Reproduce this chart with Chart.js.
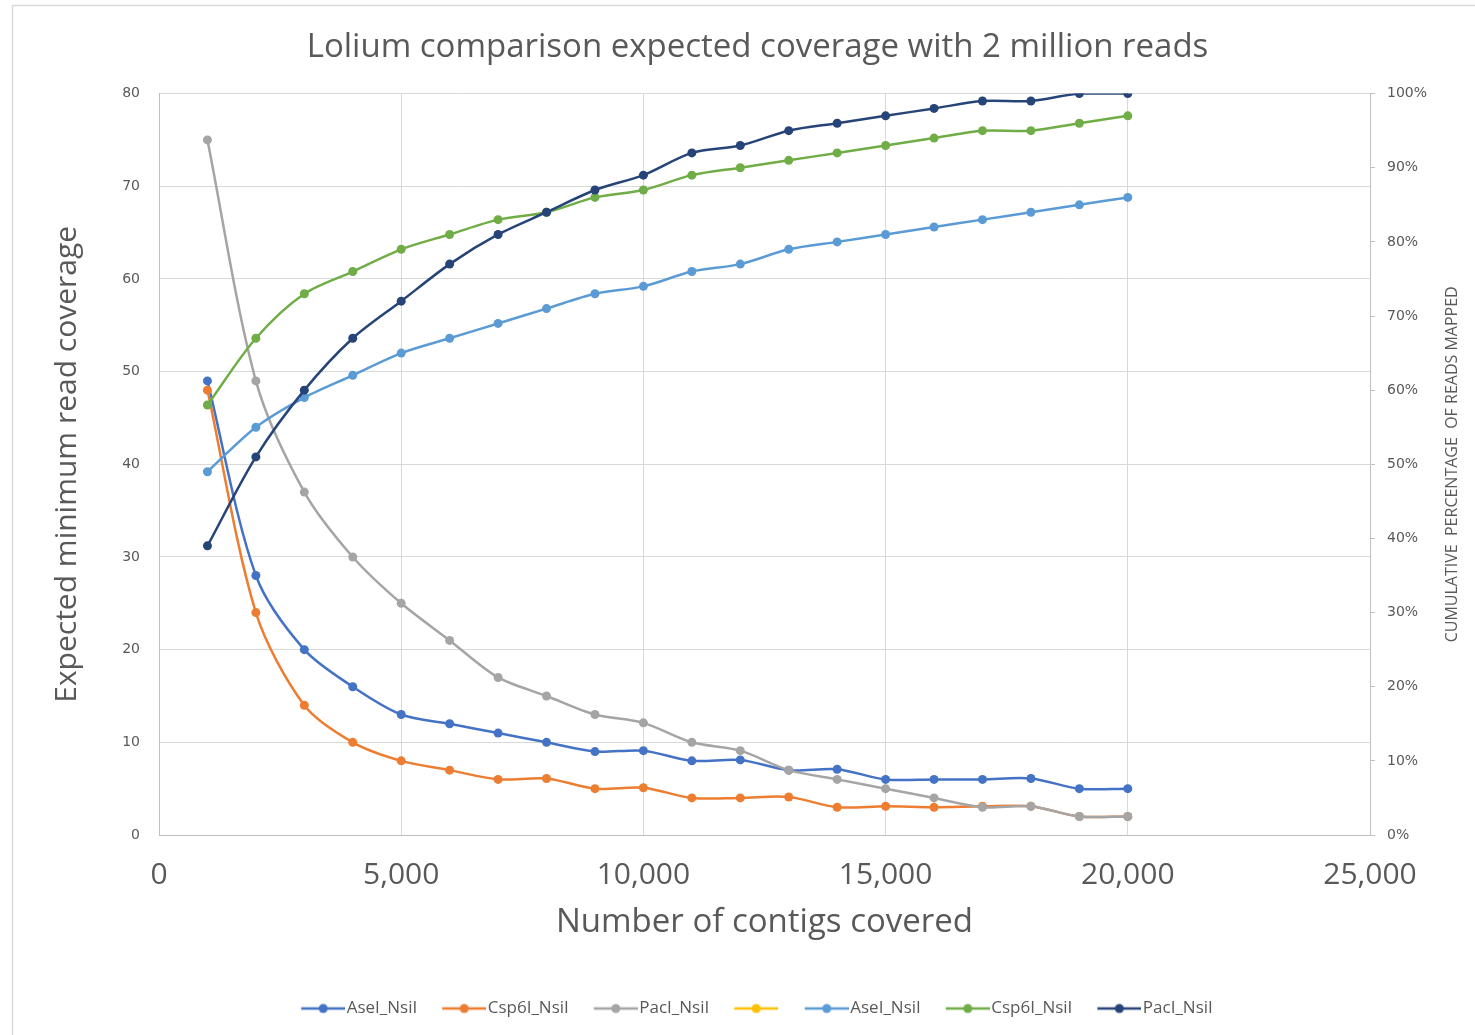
<!DOCTYPE html>
<html>
<head>
<meta charset="utf-8">
<script src="https://cdn.jsdelivr.net/npm/chart.js@4.4.1/dist/chart.umd.min.js"></script>
<style>
html,body{margin:0;padding:0;background:#fff;}
#wrap{position:relative;width:1475px;height:1035px;}
</style>
</head>
<body>
<div id="wrap"><canvas id="c" width="1475" height="1035"></canvas></div>
<script>
const contigs = [1000,2000,3000,4000,5000,6000,7000,8000,9000,10000,11000,12000,13000,14000,15000,16000,17000,18000,19000,20000];
const coverageAseI = [49,28,20,16,13,12,11,10,9,9.1,8,8.1,7,7.1,6,6,6,6.1,5,5];
const coverageCsp6I = [48,24,14,10,8,7,6,6.1,5,5.1,4,4,4.1,3,3.1,3,3.1,3.1,2,2];
const coveragePacI = [75,49,37,30,25,21,17,15,13,12.1,10,9.1,7,6,5,4,3,3.1,2,2];
const mappedAseI = [49,55,59,62,65,67,69,71,73,74,76,77,79,80,81,82,83,84,85,86];
const mappedCsp6I = [58,67,73,76,79,81,83,84,86,87,89,90,91,92,93,94,95,95,96,97];
const mappedPacI = [39,51,60,67,72,77,81,84,87,89,92,93,95,96,97,98,99,99,100,100];
const leftTicks = [0,10,20,30,40,50,60,70,80];
const rightTicks = [0,10,20,30,40,50,60,70,80,90,100];
const xTicks = [0,5000,10000,15000,20000,25000];
const seriesNames = ['AseI_NsiI','Csp6I_NsiI','PacI_NsiI','','AseI_NsiI','Csp6I_NsiI','PacI_NsiI'];
const seriesColors = ['#4472C4','#ED7D31','#A5A5A5','#FFC000','#5B9BD5','#70AD47','#264478'];

function pts(vals){ return contigs.map((x,i)=>({x:x,y:vals[i]})); }
const seriesData = [pts(coverageAseI),pts(coverageCsp6I),pts(coveragePacI),[],pts(mappedAseI),pts(mappedCsp6I),pts(mappedPacI)];
const axisFor = ['y','y','y','y','y1','y1','y1'];

function legendIcon(color){
  const c=document.createElement('canvas'); c.width=50; c.height=14;
  const g=c.getContext('2d');
  g.strokeStyle=color; g.lineWidth=2.5; g.beginPath(); g.moveTo(6,7); g.lineTo(50,7); g.stroke();
  g.fillStyle=color; g.beginPath(); g.arc(28,7,4.5,0,Math.PI*2); g.fill();
  return c;
}
const icons = seriesColors.map(legendIcon);

const datasets = seriesNames.map((n,i)=>({
  label:n,
  data:seriesData[i],
  yAxisID:axisFor[i],
  borderColor:seriesColors[i],
  backgroundColor:seriesColors[i],
  borderWidth:2.5,
  pointRadius:4.5,
  pointHoverRadius:4.5,
  pointBorderWidth:0,
  tension:0.3,
  fill:false,
  order:seriesNames.length-i
}));

const GRID='#d9d9d9', AXIS='#bfbfbf', TXT='#595959';

const extras = {
  id:'extras',
  beforeDraw(chart){
    const ctx=chart.ctx;
    ctx.save();
    ctx.strokeStyle='#d9d9d9'; ctx.lineWidth=1.5;
    ctx.beginPath(); ctx.moveTo(12.5,1035); ctx.lineTo(12.5,5.5); ctx.lineTo(1475,5.5); ctx.stroke();
    ctx.restore();
  },
  afterDraw(chart){
    const ctx=chart.ctx, a=chart.chartArea;
    ctx.save();
    ctx.translate(1452,(a.top+a.bottom)/2);
    ctx.rotate(-Math.PI/2);
    ctx.fillStyle=TXT;
    ctx.font='16px "Liberation Sans Narrow", "Open Sans", sans-serif';
    ctx.textAlign='center'; ctx.textBaseline='middle';
    ctx.fillText('CUMULATIVE  PERCENTAGE  OF READS MAPPED',0,0);
    ctx.restore();
  }
};

new Chart(document.getElementById('c'),{
  type:'line',
  data:{datasets:datasets},
  plugins:[extras],
  options:{
    responsive:false,
    animation:false,
    layout:{padding:{top:10,left:40,right:0,bottom:8}},
    plugins:{
      title:{display:true,text:'Lolium comparison expected coverage with 2 million reads',
        color:TXT,font:{family:'"Open Sans", sans-serif',size:33,weight:'normal'},padding:{top:18,bottom:26}},
      legend:{position:'bottom',
        labels:{usePointStyle:true,pointStyleWidth:36,padding:26,color:TXT,
          font:{family:'"Liberation Sans Narrow", "Open Sans", sans-serif',size:17},
          generateLabels(chart){
            return chart.data.datasets.map((d,i)=>({text:d.label,pointStyle:icons[i],fillStyle:seriesColors[i],strokeStyle:seriesColors[i],lineWidth:0,hidden:false,datasetIndex:i,fontColor:TXT}));
          }}},
      tooltip:{enabled:false}
    },
    scales:{
      x:{type:'linear',min:0,max:25000,
        afterBuildTicks(s){ s.ticks = xTicks.map(v=>({value:v})); },
        afterFit(s){ s.height=139; },
        grid:{color:GRID,drawTicks:false},
        border:{color:AXIS},
        ticks:{color:TXT,padding:22,maxRotation:0,font:{family:'"Open Sans", sans-serif',size:30},
          callback:v=>v.toLocaleString('en-US')},
        title:{display:true,text:'Number of contigs covered',color:TXT,
          font:{family:'"Open Sans", sans-serif',size:33},padding:{top:4,bottom:32}}
      },
      y:{type:'linear',position:'left',min:0,max:80,
        afterBuildTicks(s){ s.ticks = leftTicks.map(v=>({value:v})); },
        afterFit(s){ s.width=119; },
        grid:{color:GRID,drawTicks:false},
        border:{color:AXIS},
        ticks:{color:TXT,padding:19,font:{family:'"DejaVu Sans", sans-serif',size:14}},
        title:{display:true,text:'Expected minimum read coverage',color:TXT,
          font:{family:'"Open Sans", sans-serif',size:30},padding:{top:9,bottom:0}}
      },
      y1:{type:'linear',position:'right',min:0,max:100,
        afterBuildTicks(s){ s.ticks = rightTicks.map(v=>({value:v})); },
        afterFit(s){ s.width=105; },
        grid:{drawOnChartArea:false,color:AXIS,tickLength:5},
        border:{color:AXIS},
        ticks:{color:TXT,padding:12,font:{family:'"DejaVu Sans", sans-serif',size:14},callback:v=>v+'%'}
      }
    }
  }
});
</script>
</body>
</html>
